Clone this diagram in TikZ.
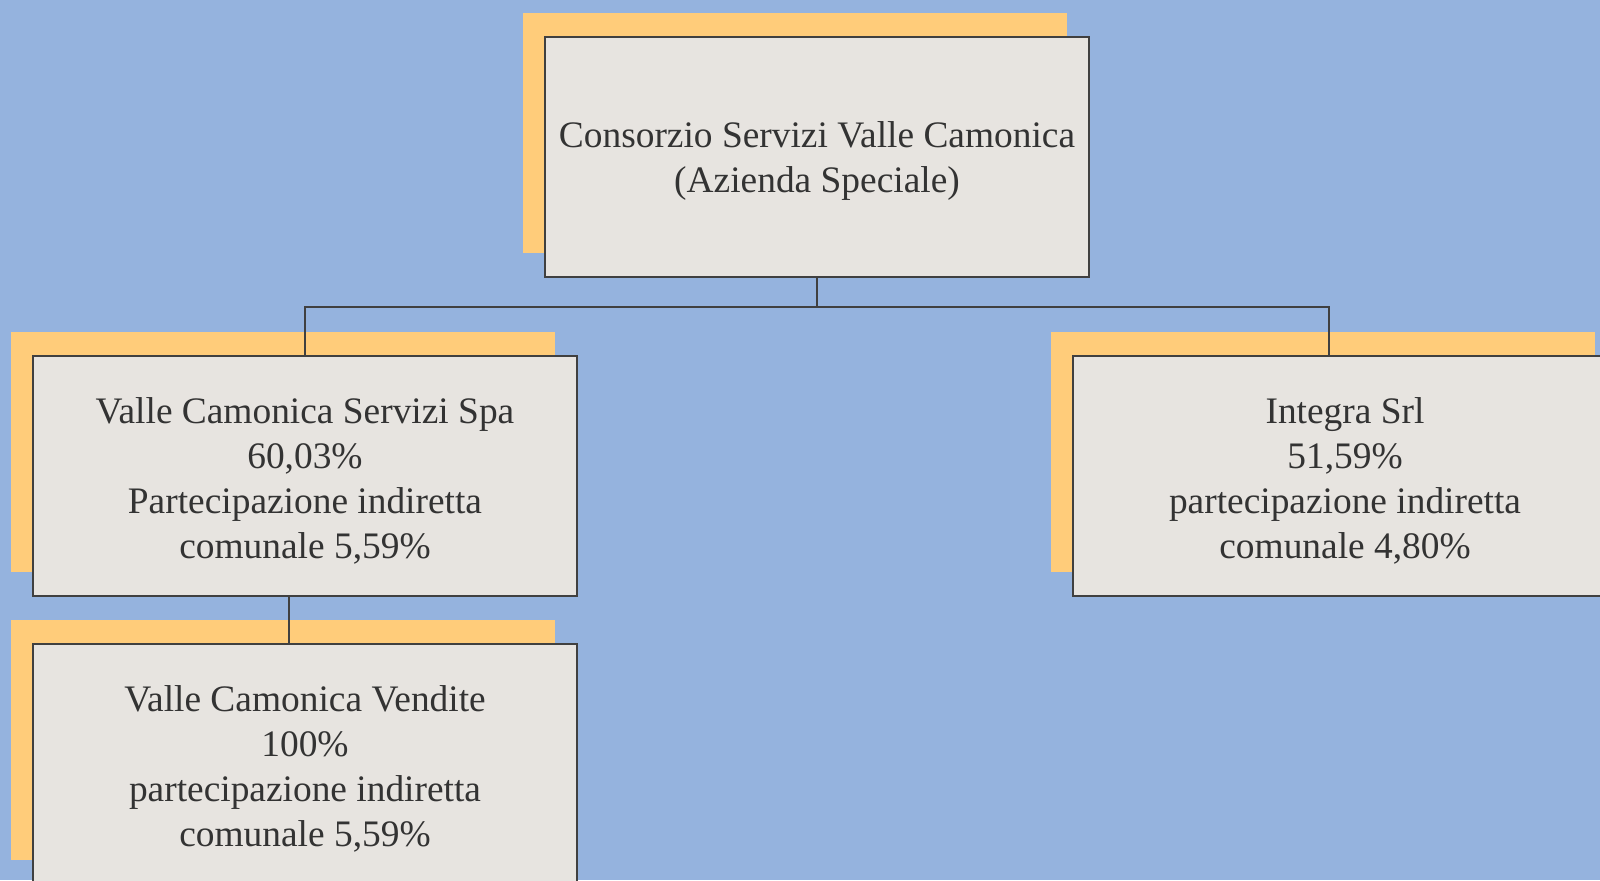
\documentclass[tikz,border=0pt]{standalone}
\usepackage{fontspec}
\setmainfont{Liberation Serif}
\usetikzlibrary{shadows}
\definecolor{bgblue}{RGB}{149,179,222}
\definecolor{shadowyellow}{RGB}{255,204,122}
\definecolor{boxfill}{RGB}{231,228,224}
\definecolor{boxline}{RGB}{64,64,64}
\definecolor{textgray}{RGB}{51,51,51}
\begin{document}
\begin{tikzpicture}[x=0.5pt,y=-0.5pt,
  orgbox/.style={draw=boxline, line width=1pt, fill=boxfill,
    minimum width=272pt, minimum height=120pt, inner sep=0pt,
    general shadow={fill=shadowyellow, shadow xshift=-11pt, shadow yshift=12pt}},
  orgtext/.style={align=center, text=textgray, inner sep=0pt, yshift=-2.4pt,
    font=\fontsize{18.7pt}{22.4pt}\selectfont},
  link/.style={draw=boxline, line width=0.8pt}]
\useasboundingbox (0,0) rectangle (1600,880);
\fill[bgblue] (0,0) rectangle (1600,880);
\begin{scope}
\clip (0,0) rectangle (1600,880);
\node[orgbox, label={[orgtext]center:Consorzio Servizi Valle Camonica\\(Azienda Speciale)}] (top) at (817,156.5) {};
\node[orgbox, label={[orgtext]center:Valle Camonica Servizi Spa\\60,03\%\\Partecipazione indiretta\\comunale 5,59\%}] (left) at (305,476) {};
\node[orgbox, label={[orgtext]center:Integra Srl\\51,59\%\\partecipazione indiretta\\comunale 4,80\%}] (right) at (1345,476) {};
\node[orgbox, label={[orgtext]center:Valle Camonica Vendite\\100\%\\partecipazione indiretta\\comunale 5,59\%}] (vendite) at (305,764) {};
\coordinate (busmid) at (817,308);
\coordinate (rjoin) at (1329,356);
\coordinate (vjoin) at (289,0);
\draw[link] (top.south) -- (busmid);
\draw[link] (left.north) -- ++(0,-48) -| (rjoin);
\draw[link] (left.south -| vjoin) -- (vendite.north -| vjoin);
\end{scope}
\end{tikzpicture}
\end{document}
